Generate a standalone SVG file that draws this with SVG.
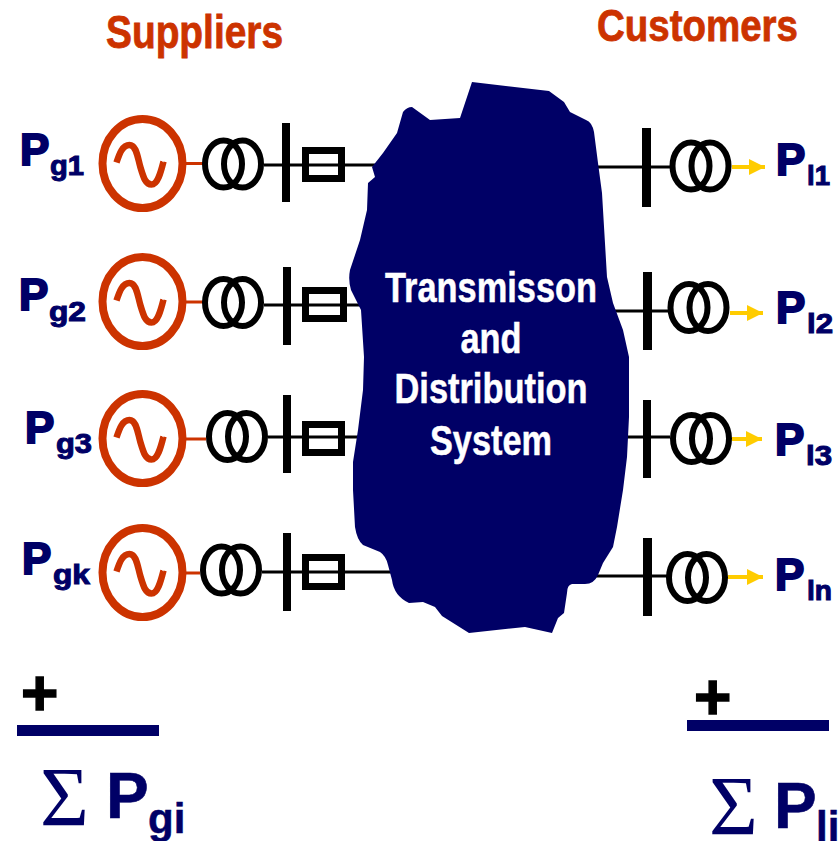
<svg xmlns="http://www.w3.org/2000/svg" width="838" height="841" viewBox="0 0 838 841">
<style>
text{font-family:"Liberation Sans",Arial,sans-serif;font-weight:700;fill:#000066}
.t{fill:#CC3300;stroke:#CC3300;stroke-width:.8;font-size:46px}
.t2{font-size:44.500px}
.c{fill:#fff;stroke:#fff;stroke-width:.5;font-size:42px;text-anchor:middle}
.P{font-size:44px;stroke:#000066;stroke-width:2}
.s{font-size:27px;stroke:#000066;stroke-width:1}
.rg{fill:none;stroke:#CC3300;stroke-width:8}
.sn{fill:none;stroke:#CC3300;stroke-width:6.500}
.tr{fill:none;stroke:#000;stroke-width:6}
.br{fill:none;stroke:#000;stroke-width:7}
.bk{stroke:#000;stroke-width:3;fill:none}
.og{stroke:#CC3300;stroke-width:3;fill:none}
.ye{stroke:#FFCC00;stroke-width:4;fill:none;marker-end:url(#a)}
.ru{fill:#000066}
.pl{fill:#000;stroke:#000;stroke-width:1.500;font-size:64px}
.sg{font-family:"Liberation Serif",serif;font-weight:400;font-size:84px}
.B{font-size:64px;stroke:#000066;stroke-width:.6}
.b2{font-size:42px;stroke:#000066;stroke-width:.5}
</style>
<defs>
<marker id="a" markerUnits="userSpaceOnUse" markerWidth="16" markerHeight="16" refX="16" refY="8" orient="auto"><path d="M0 0L16 8L0 16Z" fill="#FFCC00"/></marker>
<g id="gen"><ellipse class="rg" rx="40" ry="44.500"/><path class="sn" d="M-26 -1C-23 -10 -20 -18.500 -13 -18.500C-6 -18.500 -5 -6 -2 4C1 14 3 21 9 21C15 21 18 10 21 -2"/><path fill="#fff" d="M18 -4L21 -5L21 -1Z"/></g>
<g id="xf"><ellipse class="tr" cx="-9.500" rx="18.500" ry="23.500"/><ellipse class="tr" cx="9.500" rx="18.500" ry="23.500"/></g>
</defs>
<g id="connectors">
<path class="og" d="M186 163.500H203"/><path class="bk" d="M264 165H380"/>
<path class="og" d="M186 302H203"/><path class="bk" d="M264 305H365"/>
<path class="og" d="M186 439H206"/><path class="bk" d="M268 437H365"/>
<path class="og" d="M186 573H200"/><path class="bk" d="M262 572H395"/>
<path class="bk" d="M595 167H670"/><path class="ye" d="M732 167H765"/>
<path class="bk" d="M605 311H668"/><path class="ye" d="M730 313H763"/>
<path class="bk" d="M625 437H670"/><path class="ye" d="M732 439H762"/>
<path class="bk" d="M595 576H668"/><path class="ye" d="M728 577H763"/>
</g>
<g id="supplier-1"><use href="#gen" x="142.500" y="163.500"/><use href="#xf" x="233" y="164"/><rect x="282" y="123" width="8" height="79"/><rect class="br" x="305.500" y="150.500" width="36" height="28"/><text class="P" x="20" y="164.500">P</text><text class="s" x="50" y="175" textLength="34" lengthAdjust="spacingAndGlyphs">g1</text></g>
<g id="supplier-2"><use href="#gen" x="142.500" y="301.500"/><use href="#xf" x="233" y="302.500"/><rect x="283" y="267" width="8" height="78"/><rect class="br" x="305.500" y="290.500" width="38" height="28"/><text class="P" x="19" y="310">P</text><text class="s" x="49" y="320.500" textLength="37" lengthAdjust="spacingAndGlyphs">g2</text></g>
<g id="supplier-3"><use href="#gen" x="142.500" y="438.500"/><use href="#xf" x="237" y="436.500"/><rect x="283" y="395" width="8" height="78"/><rect class="br" x="305.500" y="424.500" width="36" height="28"/><text class="P" x="25" y="442.500">P</text><text class="s" x="56" y="453" textLength="36" lengthAdjust="spacingAndGlyphs">g3</text></g>
<g id="supplier-4"><use href="#gen" x="142.500" y="572.500"/><use href="#xf" x="231" y="570"/><rect x="283" y="533" width="8" height="78"/><rect class="br" x="305.500" y="557.500" width="36" height="29"/><text class="P" x="22" y="573.500">P</text><text class="s" x="53" y="584" textLength="37" lengthAdjust="spacingAndGlyphs">gk</text></g>
<g id="network"><path fill="#000066" d="M472 82L549 91L564 102L570 112L586 120Q592 122 594 132L598 163L602 193L607 277L613 303L623 330L629 357L629 417L627 457L623 490L617 527L613 547L603 563L598 575Q594 584 585 584L572 584Q567 585 567 593L564 613L558 618L552 633L525 627L469 633L442 616L435 607L423 602L409 603Q394 596 392 580L388 565Q386 556 380 552L363 545Q357 540 355 527L353 490L353 462L358 430L363 390L364 357L361 310L351 290Q348 280 350 270L360 240L367 210L368 183L375 177L372 167L383 153L397 133L403 112Q407 107 412 107L430 120L460 118Z"/>
<text class="c" x="491" y="302" textLength="212" lengthAdjust="spacingAndGlyphs">Transmisson</text>
<text class="c" x="491" y="353" textLength="61" lengthAdjust="spacingAndGlyphs">and</text>
<text class="c" x="491" y="403" textLength="193" lengthAdjust="spacingAndGlyphs">Distribution</text>
<text class="c" x="491" y="455" textLength="122" lengthAdjust="spacingAndGlyphs">System</text></g>
<g id="customer-1"><rect x="642" y="128" width="9" height="79"/><use href="#xf" x="700.500" y="166"/><text class="P" x="776" y="174.500">P</text><text class="s" x="807" y="185" textLength="23" lengthAdjust="spacingAndGlyphs">l1</text></g>
<g id="customer-2"><rect x="643" y="272" width="9" height="78"/><use href="#xf" x="698.500" y="307.500"/><text class="P" x="776" y="322.500">P</text><text class="s" x="807" y="333" textLength="26" lengthAdjust="spacingAndGlyphs">l2</text></g>
<g id="customer-3"><rect x="643" y="400" width="8" height="78"/><use href="#xf" x="701" y="438.500"/><text class="P" x="775" y="454.500">P</text><text class="s" x="806" y="465" textLength="26" lengthAdjust="spacingAndGlyphs">l3</text></g>
<g id="customer-4"><rect x="643" y="538" width="9" height="78"/><use href="#xf" x="697" y="577.500"/><text class="P" x="775" y="589.500">P</text><text class="s" x="807" y="600" textLength="25" lengthAdjust="spacingAndGlyphs">ln</text></g>
<g id="titles"><text class="t" x="106" y="48" textLength="177" lengthAdjust="spacingAndGlyphs">Suppliers</text><text class="t t2" x="597" y="40.500" textLength="201" lengthAdjust="spacingAndGlyphs">Customers</text></g>
<g id="sum-suppliers"><text class="pl" x="21" y="715">+</text><rect class="ru" x="17" y="725" width="142" height="11"/><text class="sg" x="40" y="826">Σ</text><text class="B" x="106" y="818">P</text><text class="b2" x="148" y="833">gi</text></g>
<g id="sum-customers"><text class="pl" x="694" y="719">+</text><rect class="ru" x="687" y="720" width="142" height="11"/><text class="sg" x="709" y="835">Σ</text><text class="B" x="774" y="828">P</text><text class="b2" x="816" y="841">li</text></g>
</svg>
